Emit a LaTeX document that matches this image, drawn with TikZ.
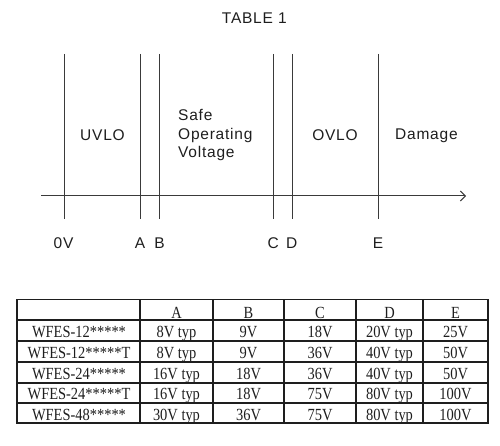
\documentclass[tikz,border=0pt]{standalone}
\usepackage{fontspec}
\setmainfont{Liberation Serif}
\newfontfamily\tblfont[FakeStretch=0.85]{Liberation Serif}
\newfontfamily\lblfont[LetterSpace=5]{Liberation Sans}
\usetikzlibrary{arrows.meta}
\definecolor{linegray}{HTML}{3A3A3A}
\definecolor{inkc}{HTML}{1E1E1E}
\tikzset{
  vline/.style={draw=linegray, line width=1pt},
  axisline/.style={draw=linegray, line width=1pt, -{Straight Barb[length=5pt,width=10pt]}},
  lbl/.style={font=\lblfont\fontsize{15.5}{18.3}\selectfont, text=inkc, inner sep=0pt},
  tcell/.style={font=\tblfont\fontsize{17}{18}\selectfont, text=inkc, inner sep=0pt, anchor=base},
  grid/.style={draw=inkc, line width=1.2pt},
}
\begin{document}
\begin{tikzpicture}[x=1pt,y=-1pt]
\useasboundingbox (0,0) rectangle (500,446);
% title
\node[lbl, anchor=base] (title) at (254.3,23.3) {TABLE 1};
% vertical markers
\foreach \n/\xx in {v0/64, vA/140, vB/159, vC/273, vD/292, vE/378}{
  \coordinate (\n t) at (\xx,54);
  \coordinate (\n b) at (\xx,219);
  \draw[vline] (\n t) -- (\n b);
}
% axis
\coordinate (axs) at (41,196);
\coordinate (axe) at (466,196);
\draw[axisline] (axs) -- (axe);
% region labels
\node[lbl, anchor=base] (uvlo) at (102.5,141) {UVLO};
\node[lbl, anchor=base west] (safe1) at (178,121) {Safe};
\node[lbl, anchor=base west] (safe2) at (178,139.5) {Operating};
\node[lbl, anchor=base west] (safe3) at (178,157.8) {Voltage};
\node[lbl, anchor=base] (ovlo) at (335,141) {OVLO};
\node[lbl, anchor=base west] (dmg) at (395,140) {Damage};
% axis labels
\node[lbl, anchor=base] (l0) at (63.5,248) {0V};
\node[lbl, anchor=base] (lA) at (140,248) {A};
\node[lbl, anchor=base] (lB) at (159.5,248) {B};
\node[lbl, anchor=base] (lC) at (273.3,248) {C};
\node[lbl, anchor=base] (lD) at (291.7,248) {D};
\node[lbl, anchor=base] (lE) at (378,248) {E};
% table grid
\draw[grid] (17,299.5) rectangle (488,423);
\foreach \yy in {320,341,362,403}{ \draw[grid] (17,\yy) -- (488,\yy); }
\draw[draw=inkc, line width=2pt] (17,382.5) -- (488,382.5);
\foreach \xx in {140,213,284,356,423}{ \draw[grid] (\xx,299.5) -- (\xx,423); }
% header
\node[tcell] (hA) at (176.5,318) {A};
\node[tcell] (hB) at (248.5,318) {B};
\node[tcell] (hC) at (320,318) {C};
\node[tcell] (hD) at (389.5,318) {D};
\node[tcell] (hE) at (455.5,318) {E};
% rows
\foreach \r/\yb/\name/\a/\b/\c/\d/\e in {
  1/337/{WFES-12*****}/{8V typ}/{9V}/{18V}/{20V typ}/{25V},
  2/358/{WFES-12*****T}/{8V typ}/{9V}/{36V}/{40V typ}/{50V},
  3/379/{WFES-24*****}/{16V typ}/{18V}/{36V}/{40V typ}/{50V},
  4/399.5/{WFES-24*****T}/{16V typ}/{18V}/{75V}/{80V typ}/{100V},
  5/420/{WFES-48*****}/{30V typ}/{36V}/{75V}/{80V typ}/{100V}}{
  \node[tcell] (r\r n) at (79,\yb) {\name};
  \node[tcell] (r\r a) at (176.5,\yb) {\a};
  \node[tcell] (r\r b) at (248.5,\yb) {\b};
  \node[tcell] (r\r c) at (320,\yb) {\c};
  \node[tcell] (r\r d) at (389.5,\yb) {\d};
  \node[tcell] (r\r e) at (455.5,\yb) {\e};
}
\end{tikzpicture}
\end{document}
